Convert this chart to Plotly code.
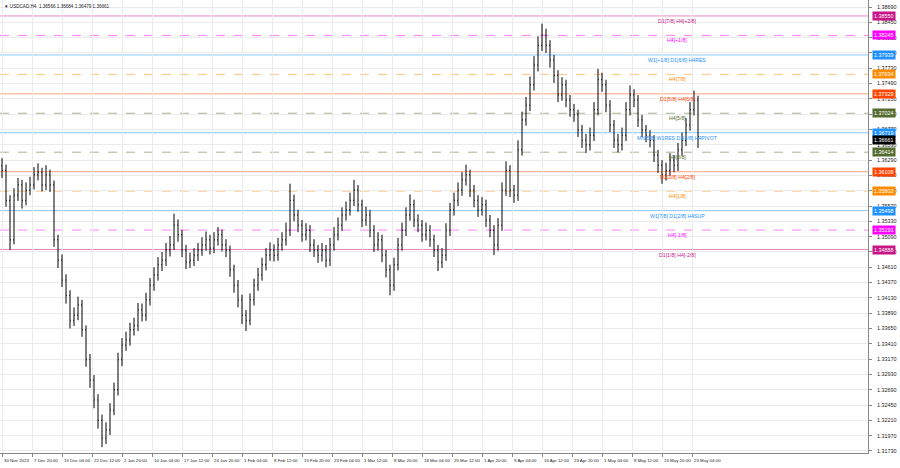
import plotly.graph_objects as go

# ---- data (aggregated bars) ----
opens = [1.3620,1.3613,1.3566,1.3504,1.3574,1.3590,1.3566,1.3582,1.3590,1.3606,
1.3610,1.3590,1.3606,1.3590,1.3504,1.3472,1.3441,1.3417,1.3378,1.3386,
1.3402,1.3363,1.3316,1.3284,1.3253,1.3221,1.3193,1.3206,1.3237,1.3269,
1.3316,1.3339,1.3347,1.3363,1.3370,1.3394,1.3386,1.3410,1.3433,1.3449,
1.3465,1.3472,1.3488,1.3496,1.3527,1.3512,1.3488,1.3469,1.3472,1.3480,
1.3488,1.3496,1.3504,1.3491,1.3504,1.3512,1.3496,1.3488,1.3457,1.3433,
1.3410,1.3386,1.3378,1.3410,1.3433,1.3449,1.3465,1.3480,1.3488,1.3480,
1.3496,1.3504,1.3519,1.3566,1.3543,1.3527,1.3512,1.3519,1.3496,1.3488,
1.3480,1.3488,1.3472,1.3496,1.3512,1.3527,1.3543,1.3551,1.3566,1.3582,
1.3559,1.3535,1.3543,1.3519,1.3496,1.3504,1.3480,1.3457,1.3433,1.3465,
1.3496,1.3519,1.3543,1.3559,1.3535,1.3527,1.3512,1.3519,1.3504,1.3488,
1.3469,1.3480,1.3519,1.3551,1.3566,1.3582,1.3598,1.3606,1.3582,1.3566,
1.3551,1.3559,1.3535,1.3519,1.3496,1.3527,1.3582,1.3613,1.3582,1.3574,
1.3645,1.3692,1.3715,1.3747,1.3778,1.3809,1.3825,1.3809,1.3786,1.3762,
1.3731,1.3747,1.3723,1.3708,1.3700,1.3676,1.3660,1.3653,1.3668,1.3708,
1.3755,1.3747,1.3715,1.3684,1.3660,1.3653,1.3668,1.3708,1.3731,1.3723,
1.3692,1.3676,1.3668,1.3660,1.3637,1.3621,1.3606,1.3613,1.3629,1.3621,
1.3645,1.3660,1.3684,1.3708,1.3723]
closes = [1.3613,1.3566,1.3504,1.3574,1.3590,1.3566,1.3582,1.3590,1.3606,1.3610,
1.3590,1.3606,1.3590,1.3504,1.3472,1.3441,1.3417,1.3378,1.3386,1.3402,
1.3363,1.3316,1.3284,1.3253,1.3221,1.3193,1.3206,1.3237,1.3269,1.3316,
1.3339,1.3347,1.3363,1.3370,1.3394,1.3386,1.3410,1.3433,1.3449,1.3465,
1.3472,1.3488,1.3496,1.3527,1.3512,1.3488,1.3469,1.3472,1.3480,1.3488,
1.3496,1.3504,1.3491,1.3504,1.3512,1.3496,1.3488,1.3457,1.3433,1.3410,
1.3386,1.3378,1.3410,1.3433,1.3449,1.3465,1.3480,1.3488,1.3480,1.3496,
1.3504,1.3519,1.3566,1.3543,1.3527,1.3512,1.3519,1.3496,1.3488,1.3480,
1.3488,1.3472,1.3496,1.3512,1.3527,1.3543,1.3551,1.3566,1.3582,1.3559,
1.3535,1.3543,1.3519,1.3496,1.3504,1.3480,1.3457,1.3433,1.3465,1.3496,
1.3519,1.3543,1.3559,1.3535,1.3527,1.3512,1.3519,1.3504,1.3488,1.3469,
1.3480,1.3519,1.3551,1.3566,1.3582,1.3598,1.3606,1.3582,1.3566,1.3551,
1.3559,1.3535,1.3519,1.3496,1.3527,1.3582,1.3613,1.3582,1.3574,1.3645,
1.3692,1.3715,1.3747,1.3778,1.3809,1.3825,1.3809,1.3786,1.3762,1.3731,
1.3747,1.3723,1.3708,1.3700,1.3676,1.3660,1.3653,1.3668,1.3708,1.3755,
1.3747,1.3715,1.3684,1.3660,1.3653,1.3668,1.3708,1.3731,1.3723,1.3692,
1.3676,1.3668,1.3660,1.3637,1.3621,1.3606,1.3613,1.3629,1.3621,1.3645,
1.3660,1.3684,1.3708,1.3723,1.36661]
highs = [1.3632,1.3622,1.3574,1.3585,1.3601,1.3598,1.3594,1.3603,1.3618,1.3624,
1.3617,1.3621,1.3614,1.3597,1.3512,1.3481,1.3450,1.3425,1.3398,1.3415,
1.3410,1.3370,1.3325,1.3292,1.3262,1.3230,1.3218,1.3248,1.3280,1.3327,
1.3350,1.3360,1.3374,1.3382,1.3405,1.3404,1.3421,1.3444,1.3461,1.3477,
1.3485,1.3499,1.3510,1.3545,1.3536,1.3520,1.3496,1.3484,1.3491,1.3499,
1.3508,1.3517,1.3512,1.3516,1.3524,1.3520,1.3505,1.3495,1.3465,1.3441,
1.3418,1.3394,1.3420,1.3443,1.3460,1.3476,1.3491,1.3500,1.3497,1.3507,
1.3516,1.3531,1.3592,1.3575,1.3551,1.3535,1.3530,1.3527,1.3505,1.3496,
1.3499,1.3496,1.3507,1.3524,1.3539,1.3555,1.3564,1.3578,1.3598,1.3590,
1.3567,1.3556,1.3551,1.3527,1.3516,1.3512,1.3488,1.3465,1.3476,1.3507,
1.3531,1.3555,1.3575,1.3567,1.3544,1.3535,1.3531,1.3527,1.3512,1.3496,
1.3491,1.3530,1.3562,1.3578,1.3594,1.3610,1.3622,1.3614,1.3590,1.3574,
1.3571,1.3567,1.3543,1.3527,1.3538,1.3594,1.3627,1.3621,1.3590,1.3660,
1.3705,1.3728,1.3760,1.3792,1.3823,1.3843,1.3835,1.3817,1.3794,1.3770,
1.3759,1.3755,1.3731,1.3717,1.3708,1.3684,1.3670,1.3680,1.3720,1.3772,
1.3766,1.3755,1.3723,1.3692,1.3670,1.3680,1.3720,1.3746,1.3740,1.3731,
1.3700,1.3684,1.3676,1.3668,1.3645,1.3629,1.3625,1.3640,1.3637,1.3656,
1.3672,1.3695,1.3720,1.3738,1.3730]
lows = [1.3601,1.3556,1.3488,1.3497,1.3565,1.3553,1.3558,1.3574,1.3583,1.3597,
1.3580,1.3582,1.3579,1.3493,1.3460,1.3430,1.3404,1.3365,1.3369,1.3378,
1.3352,1.3305,1.3272,1.3240,1.3208,1.3179,1.3184,1.3198,1.3229,1.3260,
1.3306,1.3330,1.3338,1.3354,1.3361,1.3376,1.3377,1.3401,1.3424,1.3440,
1.3455,1.3463,1.3478,1.3488,1.3501,1.3477,1.3458,1.3460,1.3463,1.3471,
1.3479,1.3487,1.3481,1.3483,1.3495,1.3486,1.3477,1.3446,1.3421,1.3398,
1.3372,1.3361,1.3370,1.3401,1.3424,1.3440,1.3456,1.3471,1.3470,1.3471,
1.3487,1.3495,1.3510,1.3533,1.3516,1.3501,1.3503,1.3485,1.3477,1.3468,
1.3470,1.3461,1.3463,1.3487,1.3503,1.3518,1.3534,1.3542,1.3557,1.3548,
1.3524,1.3526,1.3508,1.3485,1.3487,1.3469,1.3445,1.3417,1.3424,1.3456,
1.3487,1.3510,1.3534,1.3524,1.3516,1.3501,1.3503,1.3493,1.3477,1.3455,
1.3460,1.3471,1.3510,1.3542,1.3557,1.3573,1.3589,1.3571,1.3555,1.3540,
1.3542,1.3524,1.3508,1.3480,1.3487,1.3518,1.3573,1.3571,1.3562,1.3565,
1.3636,1.3683,1.3706,1.3738,1.3768,1.3800,1.3797,1.3774,1.3750,1.3720,
1.3722,1.3712,1.3697,1.3689,1.3665,1.3648,1.3640,1.3644,1.3659,1.3699,
1.3736,1.3704,1.3673,1.3648,1.3641,1.3644,1.3659,1.3699,1.3712,1.3681,
1.3665,1.3657,1.3649,1.3626,1.3609,1.3592,1.3597,1.3604,1.3610,1.3612,
1.3636,1.3651,1.3675,1.3699,1.3648]

x_labels = ["30 Nov 2023", "7 Dec 20:00", "15 Dec 04:00", "22 Dec 12:00", "2 Jan 20:00",
            "10 Jan 04:00", "17 Jan 12:00", "24 Jan 20:00", "1 Feb 04:00", "8 Feb 12:00",
            "15 Feb 20:00", "23 Feb 04:00", "1 Mar 12:00", "8 Mar 20:00", "18 Mar 04:00",
            "25 Mar 12:00", "1 Apr 20:00", "9 Apr 04:00", "16 Apr 12:00", "23 Apr 20:00",
            "1 May 04:00", "8 May 12:00", "15 May 20:00", "23 May 04:00"]
y_ticks = [1.31730, 1.31970, 1.32210, 1.32450, 1.32690, 1.32930, 1.33170, 1.33410,
           1.33650, 1.33890, 1.34130, 1.34370, 1.34610, 1.34850, 1.35090, 1.35330,
           1.35570, 1.35810, 1.36050, 1.36290, 1.36530, 1.36770, 1.37010, 1.37250,
           1.37490, 1.37730, 1.37970, 1.38210, 1.38450, 1.38690]

level_prices = [1.38550, 1.38245, 1.37939, 1.37634, 1.37329, 1.37024, 1.36719,
                1.36414, 1.36108, 1.35803, 1.35498, 1.35193, 1.34888]
level_names = ["D1[7/8] H4[+2/8]", "H4[+1/8]", "W1[+1/8] D1[6/8] H4RES", "H4[7/8]",
               "D1[5/8] H4[6/8]", "H4[5/8]", "MN[5/8] W1RES D1[4/8] H4PIVOT", "H4[3/8]",
               "D1[3/8] H4[2/8]", "H4[1/8]", "W1[7/8] D1[2/8] H4SUP", "H4[-1/8]",
               "D1[1/8] H4[-2/8]"]
level_colors = ["#C71585", "#FF00FF", "#1E90FF", "#FF8C00", "#FF4500", "#556B2F", "#1E90FF",
                "#556B2F", "#FF4500", "#FF8C00", "#1E90FF", "#FF00FF", "#C71585"]
level_dash = ["solid", "dash", "solid", "dash", "solid", "dash", "solid",
              "dash", "solid", "dash", "solid", "dash", "solid"]
last_price = 1.36661
header = "USDCAD,H4  1.36566 1.36684 1.36479 1.36661"

# ---- figure ----
W, H = 900, 468
plot_right = 868
FONT = "Liberation Sans"
n = len(closes)
xs = list(range(n))

fig = go.Figure()
fig.add_trace(go.Ohlc(
    x=xs, open=opens, high=highs, low=lows, close=closes,
    increasing=dict(line=dict(color="#000000", width=1)),
    decreasing=dict(line=dict(color="#000000", width=1)),
    tickwidth=0.2, hoverinfo="skip", showlegend=False))

x_min, x_max = -0.5, (plot_right - 2) / 4
label_pos = [k * 7.5 for k in range(len(x_labels))]

for p, c, d in zip(level_prices, level_colors, level_dash):
    fig.add_shape(type="line", xref="paper", x0=0, x1=plot_right / W, yref="y", y0=p, y1=p,
                  line=dict(color=c, width=1, dash=d), opacity=0.5, layer="below")

annotations = []
for p, name, c in zip(level_prices, level_names, level_colors):
    annotations.append(dict(xref="paper", yref="y", x=677 / W, y=p, text=name, showarrow=False,
                            xanchor="center", yanchor="top", yshift=0,
                            font=dict(size=5.2, color=c, family=FONT)))
    annotations.append(dict(xref="paper", yref="y", x=872 / W, y=p, text=f"{p:.5f}", showarrow=False,
                            xanchor="left", yanchor="middle", bgcolor=c, borderpad=1,
                            font=dict(size=5.4, color="white", family=FONT)))
annotations.append(dict(xref="paper", yref="y", x=872 / W, y=last_price, yshift=-4,
                        text=f"{last_price:.5f}", showarrow=False, xanchor="left", yanchor="middle",
                        bgcolor="#000000", borderpad=1,
                        font=dict(size=5.4, color="white", family=FONT)))
for pos, lab in zip(label_pos, x_labels):
    annotations.append(dict(xref="x", yref="paper", x=pos, y=(H - 456) / H, text=lab,
                            showarrow=False, xanchor="left", yanchor="top", xshift=0,
                            font=dict(size=4.4, color="#222222", family=FONT)))
annotations.append(dict(xref="paper", yref="paper", x=2 / W, y=1 - 2 / H, text="▼ " + header,
                        showarrow=False, xanchor="left", yanchor="top",
                        font=dict(size=4.6, color="#222222", family=FONT)))

fig.update_layout(
    width=W, height=H, margin=dict(l=0, r=0, t=0, b=0, autoexpand=False),
    paper_bgcolor="white", plot_bgcolor="white",
    xaxis=dict(domain=[0, plot_right / W], range=[x_min, x_max], rangeslider=dict(visible=False),
               tickvals=label_pos, ticktext=[""] * len(label_pos), ticks="outside", ticklen=3,
               tickcolor="#888888", showgrid=True, gridcolor="#EBEBEB", gridwidth=1,
               showline=True, linecolor="#888888", linewidth=1, zeroline=False),
    yaxis=dict(domain=[(H - 453) / H, 1], range=[1.31698, 1.38800], side="right",
               tickvals=y_ticks, ticktext=[f"{v:.5f}" for v in y_ticks], ticks="outside",
               ticklen=3, ticklabelstandoff=4, tickcolor="#888888", showgrid=True,
               gridcolor="#EBEBEB", showline=True, linecolor="#888888", linewidth=1,
               zeroline=False, tickfont=dict(size=5.4, color="#222222", family=FONT)),
    annotations=annotations,
)

fig.write_html("out.html", config={"displayModeBar": False},
               post_script="document.body.style.margin='0px';document.body.style.overflow='hidden';")
